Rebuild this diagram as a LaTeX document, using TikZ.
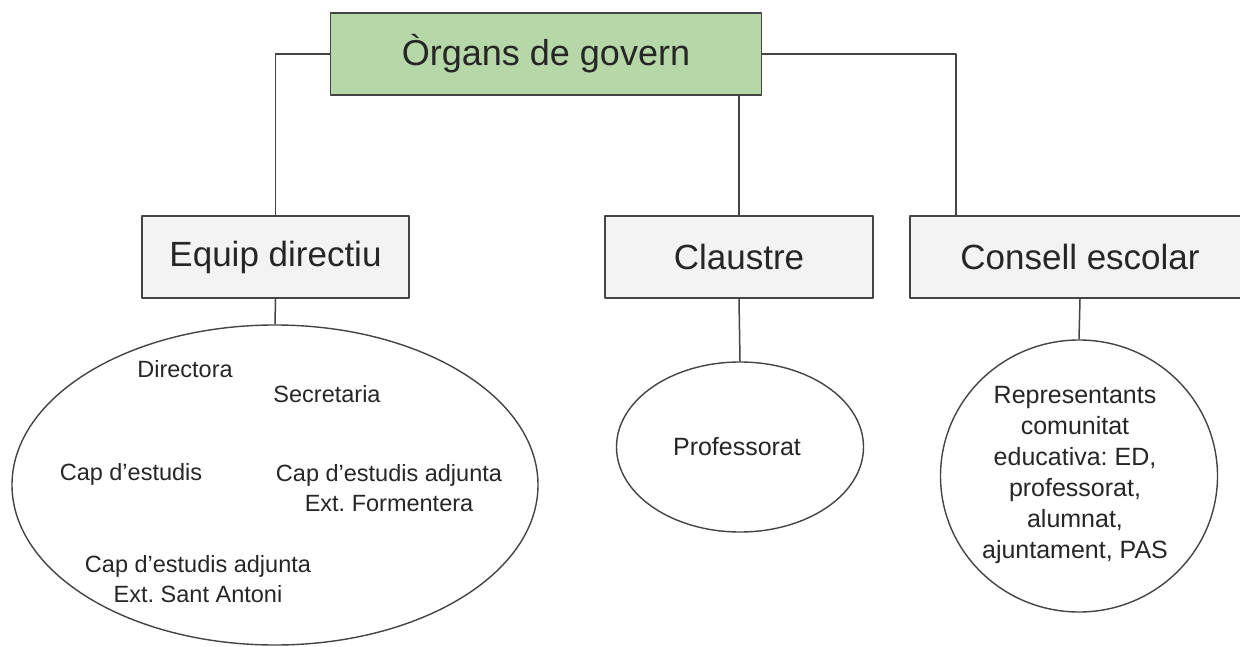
\documentclass[tikz,border=0pt]{standalone}
\usepackage{fontspec}
\setmainfont{Liberation Sans}
\usepackage{tikz}
\usetikzlibrary{shapes.geometric,positioning,calc}
\frenchspacing

\definecolor{govgreen}{HTML}{B6D7A8}
\definecolor{boxgray}{HTML}{F3F3F3}
\definecolor{linegray}{HTML}{444444}
\definecolor{txtgray}{HTML}{262626}

\begin{document}
\begin{tikzpicture}[x=1pt,y=-1pt,line join=round,
  organ/.style={draw=linegray, line width=1.8pt, inner sep=0pt, minimum height=82pt,
    text=txtgray, font=\fontsize{35}{40}\selectfont},
  member/.style={ellipse, draw=linegray, line width=1.4pt, inner sep=0pt},
  label/.style={text=txtgray, align=center, inner sep=0pt,
    font=\fontsize{23.5}{30}\selectfont},
  link/.style={draw=linegray, line width=1.5pt}]

\clip (0,0) rectangle (1240,647);
\fill[white] (0,0) rectangle (1240,647);

\node (govern) at (546,54) [organ, fill=govgreen, minimum width=431pt,
  font=\fontsize{36}{40}\selectfont] {Òrgans de govern};

\node (equip) at (275.5,257) [organ, fill=boxgray, minimum width=267pt] {Equip directiu};
\node (claustre) at (739,257) [organ, fill=boxgray, minimum width=268pt] {Claustre};
\node (consell) at (1080,257) [organ, fill=boxgray, minimum width=340pt] {Consell escolar};

% membres
\node (direccio) at (275,485) [member, minimum width=526pt, minimum height=320pt] {};
\node (profs) at (740,447) [member, minimum width=247pt, minimum height=170pt] {};
\node (repres) at (1079,476) [member, minimum width=277pt, minimum height=272pt] {};

\node (directora) at (185,369) [label] {Directora};
\node (secretaria) at (327,394) [label] {Secretaria};
\node (capest) at (131,474) [label] {Cap d’estudis};
\node (capfor) at (389,488) [label] {Cap d’estudis adjunta\\Ext. Formentera};
\node (capsa) at (198,579) [label] {Cap d’estudis adjunta\\Ext. Sant Antoni};

\node (professorat) at (737,447) [label, font=\fontsize{25}{30}\selectfont] {Professorat};
\node (comunitat) at (1075,475) [label, font=\fontsize{25}{31}\selectfont]
  {Representants\\comunitat\\educativa: ED,\\professorat,\\alumnat,\\ajuntament, PAS};

% connexions
\coordinate (conright) at ([xshift=47pt]consell.north west);
\draw[link] (govern.west) -| (equip.north);
\draw[link] (govern.east) -| (conright);
\draw[link] (govern.south -| claustre.north) -- (claustre.north);

\draw[link] (equip.south) -- (direccio.north);
\draw[link] (claustre.south) -- (profs.north);
\draw[link] (consell.south) -- (repres.north);

\end{tikzpicture}
\end{document}
